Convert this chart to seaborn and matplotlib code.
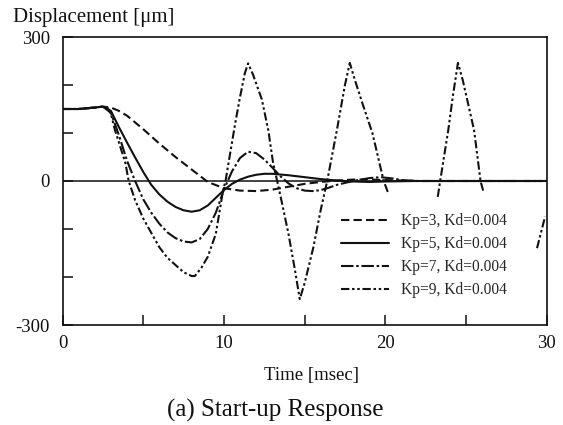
import numpy as np
import pandas as pd
import matplotlib
matplotlib.use("Agg")
import matplotlib.pyplot as plt
import seaborn as sns

# ---------------- data ----------------
labels = ["Kp=3, Kd=0.004", "Kp=5, Kd=0.004", "Kp=7, Kd=0.004", "Kp=9, Kd=0.004"]

t3 = [0, 1, 2, 2.5, 3, 3.5, 4, 5, 6, 7, 8, 9, 10, 11, 12, 13, 14, 15, 16, 17, 18, 19, 20, 22, 25, 30]
v3 = [150, 150, 153, 155, 153, 146, 136, 108, 78, 50, 24, -2, -15, -20, -21, -18, -12, -6, -2, 1, 3, 3, 2, 0, 0, 0]

t5 = [0, 1, 2, 2.5, 3, 3.5, 4, 4.5, 5, 5.5, 6, 6.5, 7, 7.5, 8, 8.5, 9, 9.5, 10, 10.5, 11, 11.5,
      12, 12.5, 13, 14, 15, 16, 17, 18, 19, 20, 22, 25, 30]
v5 = [150, 150, 153, 155, 146, 112, 80, 49, 19, -8, -28, -43, -54, -61, -64, -61, -51, -35, -19, -6, 3, 9,
      13, 15, 15, 12, 8, 4, 1, -1, -2, -1, 0, 0, 0]

t7 = [0, 1, 2, 2.5, 3, 3.5, 4, 4.5, 5, 5.5, 6, 6.5, 7, 7.5, 8, 8.5, 9, 9.5, 10, 10.5, 11, 11.5, 12,
      12.5, 13, 13.5, 14, 14.5, 15, 15.5, 16, 16.5, 17, 18, 19, 19.7, 20.5, 21, 22, 25, 30]
v7 = [150, 150, 153, 155, 142, 95, 42, 0, -38, -66, -89, -107, -119, -126, -128, -121, -100, -66, -18, 20, 48, 61, 58,
      45, 28, 10, -5, -15, -20, -21, -19, -14, -8, 0, 6, 8, 5, 2, 0, 0, 0]

# Kp=9 is drawn in three visible pieces (gaps in the original trace)
t9a = [0, 1, 2, 2.5, 2.8, 3, 3.25, 3.5, 3.9, 4.1, 4.5, 5, 5.5, 6, 6.5, 7, 7.5, 8, 8.2, 8.6, 9, 9.5, 9.95,
       10.1, 10.7, 11.0, 11.3, 11.5, 11.8, 12.35, 12.75, 13.05, 13.3, 13.6, 14.0, 14.4, 14.7, 15.0, 15.55,
       16.0, 16.4, 17.0, 17.5, 17.8, 18.1, 18.6, 19.2, 19.9, 20.2]
v9a = [150, 150, 153, 155, 152, 140, 106, 80, 37, 0, -40, -78, -108, -138, -160, -175, -190, -198, -198, -181, -158, -110, -19,
       0, 120, 175, 225, 245, 222, 170, 106, 37, 0, -46, -110, -185, -246, -213, -137,
       -60, 0, 106, 200, 246, 212, 160, 100, 0, -27]
t9b = [23.25, 23.4, 23.9, 24.2, 24.5, 24.8, 25.5, 25.9, 26.1]
v9b = [-33, 0, 106, 180, 246, 210, 106, 0, -25]
t9c = [29.4, 29.9]
v9c = [-140, -74]

x_ticks = [0, 5, 10, 15, 20, 25, 30]
x_ticklabels = ["0", "", "10", "", "20", "", "30"]
y_ticks = [-300, -200, -100, 0, 100, 200, 300]
y_ticklabels = ["-300", "", "", "0", "", "", "300"]

# ---------------- build table ----------------
frames = []
for lab, t, v, seg in [(labels[0], t3, v3, "a3"), (labels[1], t5, v5, "a5"), (labels[2], t7, v7, "a7"),
                       (labels[3], t9a, v9a, "a9"), (labels[3], t9b, v9b, "b9"), (labels[3], t9c, v9c, "c9")]:
    frames.append(pd.DataFrame({"t": t, "v": v, "series": lab, "seg": seg}))
df = pd.concat(frames, ignore_index=True)

# ---------------- style ----------------
sns.set_style("white")
plt.rcParams["font.family"] = ["Liberation Serif", "DejaVu Serif"]

fig = plt.figure(figsize=(5.63, 4.25), dpi=100)
ax = fig.add_axes([62.5 / 563, 1 - 325 / 425, (546.7 - 62.5) / 563, (325 - 37) / 425])

dashes = {
    labels[0]: (4, 2),
    labels[1]: "",
    labels[2]: (6, 1.3, 1.2, 1.3),
    labels[3]: (4, 1.3, 1.2, 1.3, 1.2, 1.3),
}

ax.axhline(0, color="#111111", lw=1.1, zorder=1)

sns.lineplot(data=df, x="t", y="v", style="series", style_order=labels, units="seg",
             estimator=None, sort=False, dashes=dashes, color="#111111", linewidth=1.5,
             ax=ax, legend="full")

ax.set_xlim(0, 30)
ax.set_ylim(-300, 300)
ax.set_xticks(x_ticks)
ax.set_xticklabels(x_ticklabels)
ax.set_yticks(y_ticks)
ax.set_yticklabels(y_ticklabels)
ax.tick_params(axis="both", direction="in", length=7, width=1.1, color="#111111",
               labelsize=13.5, labelcolor="#111111", bottom=True, left=True,
               top=False, right=False)
ax.tick_params(axis="y", pad=9)
ax.tick_params(axis="x", pad=7)
for s in ax.spines.values():
    s.set_linewidth(1.2)
    s.set_color("#111111")

ax.set_xlabel("")
ax.set_ylabel("")

sns.move_legend(ax, "upper left", bbox_to_anchor=(341 / 563, 1 - 213 / 425),
                bbox_transform=fig.transFigure, frameon=False, title=None,
                fontsize=11.2, handlelength=3.1, handletextpad=0.75, labelspacing=0.45,
                borderpad=0, borderaxespad=0)

fig.text(13 / 563, 1 - 21.7 / 425, "Displacement [\u03bcm]", ha="left", va="baseline",
         fontsize=15, color="#111111")
fig.text(311.7 / 563, 1 - 380 / 425, "Time [msec]", ha="center", va="baseline",
         fontsize=13.5, color="#111111")
fig.text(275 / 563, 1 - 416.7 / 425, "(a) Start-up Response", ha="center", va="baseline",
         fontsize=18, color="#111111")

fig.savefig("out.png", dpi=100, facecolor="white")
